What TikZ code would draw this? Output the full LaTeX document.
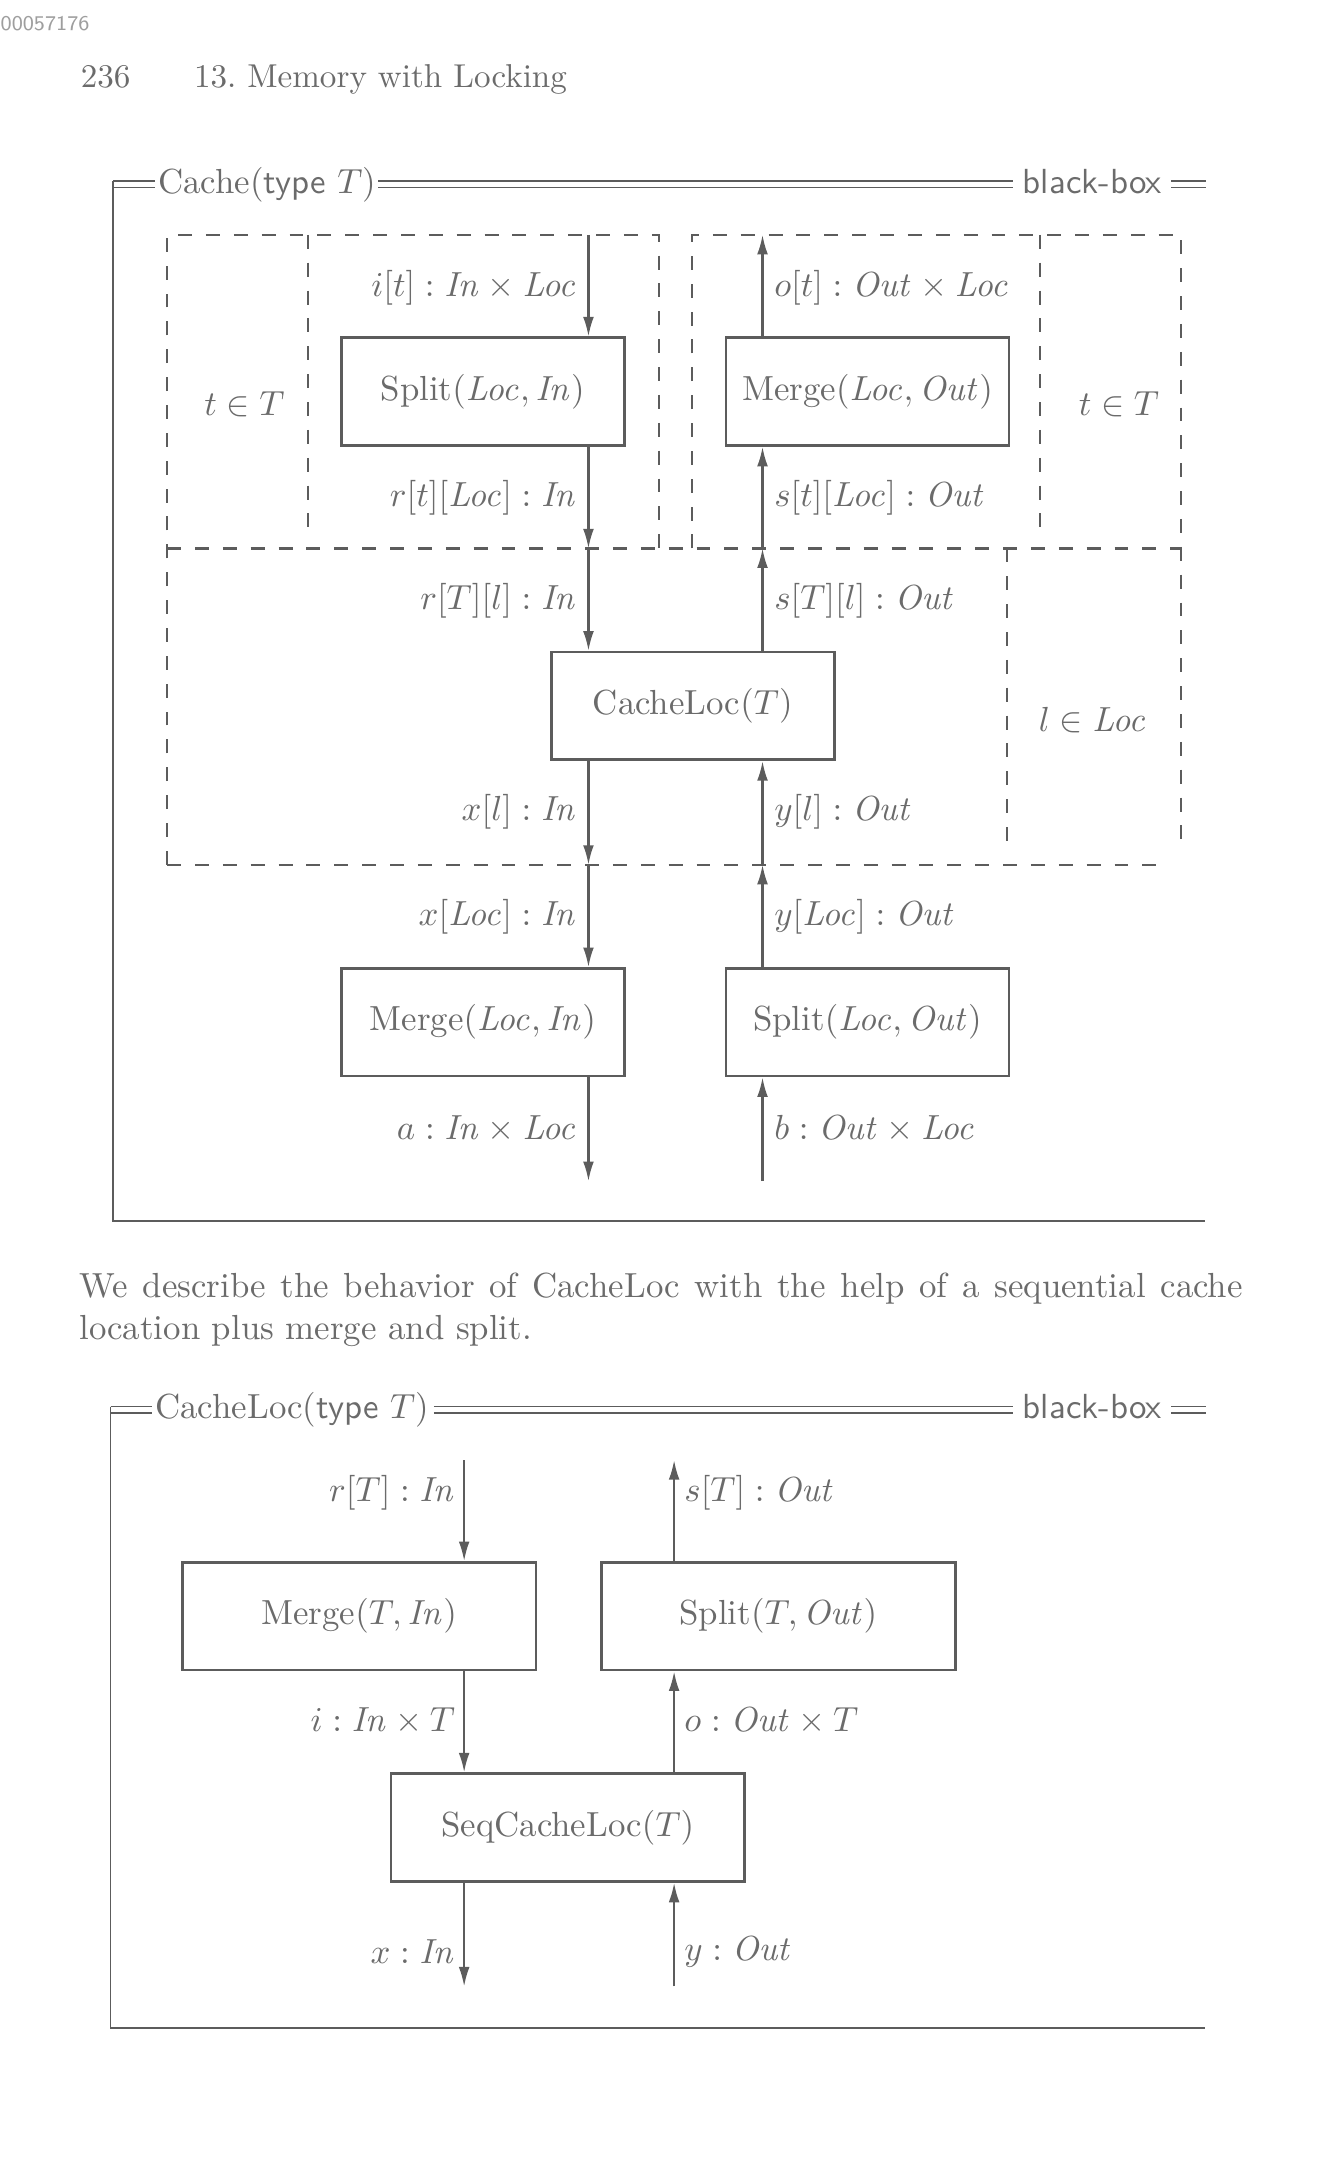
\documentclass[tikz,border=0pt]{standalone}
\usetikzlibrary{arrows.meta}
\definecolor{ink}{gray}{0.42}
\definecolor{rulec}{gray}{0.36}
\definecolor{pale}{gray}{0.62}
\begin{document}
\begin{tikzpicture}[x=0.3966pt,y=-0.3966pt,
  cbox/.style={draw=rulec, line width=0.8pt, minimum height=30.9pt, inner sep=0pt, text=ink},
  boxa/.style={cbox, minimum width=81.3pt},
  boxb/.style={cbox, minimum width=101.5pt},
  lbl/.style={text=ink, inner sep=0pt},
  arr/.style={draw=rulec, line width=0.6pt, -{Latex[length=5.6pt,width=3.1pt]}},
  dsh/.style={draw=rulec, line width=0.65pt, dash pattern=on 4pt off 4pt},
  frm/.style={draw=rulec, line width=0.5pt},
  dbl/.style={draw=rulec, line width=0.45pt}]
\useasboundingbox (0,0) rectangle (968,1568);

% page furniture
\node[lbl, text=pale, anchor=west, font=\sffamily\fontsize{6}{7}\selectfont] (code) at (0,17) {00057176};
\node[lbl, anchor=base west, font=\fontsize{9.5}{11}\selectfont] (pg) at (58,63) {236};
\node[lbl, anchor=base west, font=\fontsize{9.5}{11}\selectfont] (head) at (140,63) {13.\ Memory with Locking};

% ===== Frame 1 =====
\draw[frm] (82,131.2) -- (82,884) -- (872,884);
\draw[dbl] (82,131.2) -- (112,131.2) (82,135.8) -- (112,135.8);
\node[lbl, anchor=west] (t1) at (114,133.5) {Cache(\textsf{type} $T$)};
\draw[dbl] (274,131.2) -- (733,131.2) (274,135.8) -- (733,135.8);
\node[lbl, anchor=base west] (bb1) at (740,139.8) {\textsf{black-box}};
\draw[dbl] (848,131.2) -- (873,131.2) (848,135.8) -- (873,135.8);

% dashed replication boxes
\draw[dsh] (121,626) -- (121,170) -- (477,170) -- (477,397);
\draw[dsh] (223,170) -- (223,388);
\draw[dsh] (501,397) -- (501,170) -- (855,170) -- (855,610);
\draw[dsh] (753,170) -- (753,388);
\draw[dsh] (121,397) -- (855,397);
\draw[dsh] (729,397) -- (729,610);
\draw[dsh] (121,626) -- (840,626);

\node[lbl] (tT1) at (177,293) {$t \in T$};
\node[lbl] (tT2) at (810,293) {$t \in T$};
\node[lbl] (lL) at (791,521) {$l \in \mathit{Loc}$};

% boxes
\node[boxa] (splitLI) at (349.5,283.5) {Split$(\mathit{Loc}, \mathit{In})$};
\node[boxa] (mergeLO) at (628,283.5) {Merge$(\mathit{Loc}, \mathit{Out})$};
\node[boxa] (cacheloc) at (501.5,511) {CacheLoc$(T)$};
\node[boxa] (mergeLI) at (349.5,740) {Merge$(\mathit{Loc}, \mathit{In})$};
\node[boxa] (splitLO) at (628,740) {Split$(\mathit{Loc}, \mathit{Out})$};

% coordinates on the dashed borders / free ends
\coordinate (La) at (426,170);
\coordinate (Lb) at (426,397);
\coordinate (Lc) at (426,626);
\coordinate (Ld) at (426,855);
\coordinate (Ra) at (552,170);
\coordinate (Rb) at (552,397);
\coordinate (Rc) at (552,626);
\coordinate (Rd) at (552,855);

% left column (downwards)
\draw[arr] (La) -- (La |- splitLI.north);
\draw[arr] (Lb |- splitLI.south) -- (Lb);
\draw[arr] (Lb) -- (Lb |- cacheloc.north);
\draw[arr] (Lc |- cacheloc.south) -- (Lc);
\draw[arr] (Lc) -- (Lc |- mergeLI.north);
\draw[arr] (Ld |- mergeLI.south) -- (Ld);
% right column (upwards)
\draw[arr] (Ra |- mergeLO.north) -- (Ra);
\draw[arr] (Rb) -- (Rb |- mergeLO.south);
\draw[arr] (Rb |- cacheloc.north) -- (Rb);
\draw[arr] (Rc) -- (Rc |- cacheloc.south);
\draw[arr] (Rc |- splitLO.north) -- (Rc);
\draw[arr] (Rd) -- (Rd |- splitLO.south);

% labels
\node[lbl, anchor=east] (l1) at (418,208) {$i[t] : \mathit{In} \times \mathit{Loc}$};
\node[lbl, anchor=east] (l2) at (418,360) {$r[t][\mathit{Loc}] : \mathit{In}$};
\node[lbl, anchor=east] (l3) at (418,435) {$r[T][l] : \mathit{In}$};
\node[lbl, anchor=east] (l4) at (418,588) {$x[l] : \mathit{In}$};
\node[lbl, anchor=east] (l5) at (418,664) {$x[\mathit{Loc}] : \mathit{In}$};
\node[lbl, anchor=east] (l6) at (418,817) {$a : \mathit{In} \times \mathit{Loc}$};
\node[lbl, anchor=west] (r1) at (560,208) {$o[t] : \mathit{Out} \times \mathit{Loc}$};
\node[lbl, anchor=west] (r2) at (560,360) {$s[t][\mathit{Loc}] : \mathit{Out}$};
\node[lbl, anchor=west] (r3) at (560,435) {$s[T][l] : \mathit{Out}$};
\node[lbl, anchor=west] (r4) at (560,588) {$y[l] : \mathit{Out}$};
\node[lbl, anchor=west] (r5) at (560,664) {$y[\mathit{Loc}] : \mathit{Out}$};
\node[lbl, anchor=west] (r6) at (560,817) {$b : \mathit{Out} \times \mathit{Loc}$};

% ===== paragraph =====
\node[lbl, anchor=base west] (p1) at (57,939) {\makebox[334pt][s]{We describe the behavior of CacheLoc with the help of a sequential cache}};
\node[lbl, anchor=base west] (p2) at (57,970) {location plus merge and split.};

% ===== Frame 2 =====
\draw[frm] (80,1018.2) -- (80,1468) -- (872,1468);
\draw[dbl] (80,1018.2) -- (110,1018.2) (80,1022.8) -- (110,1022.8);
\node[lbl, anchor=west] (t2) at (112,1020.5) {CacheLoc(\textsf{type} $T$)};
\draw[dbl] (314,1018.2) -- (733,1018.2) (314,1022.8) -- (733,1022.8);
\node[lbl, anchor=base west] (bb2) at (740,1026.8) {\textsf{black-box}};
\draw[dbl] (848,1018.2) -- (873,1018.2) (848,1022.8) -- (873,1022.8);

\node[boxb] (mergeTI) at (260,1170) {Merge$(T, \mathit{In})$};
\node[boxb] (splitTO) at (563.5,1170) {Split$(T, \mathit{Out})$};
\node[boxb] (seq) at (411,1323) {SeqCacheLoc$(T)$};

\coordinate (Ma) at (336,1057);
\coordinate (Mb) at (336,1438);
\coordinate (Na) at (488,1057);
\coordinate (Nb) at (488,1438);

\draw[arr] (Ma) -- (Ma |- mergeTI.north);
\draw[arr] (Ma |- mergeTI.south) -- (Ma |- seq.north);
\draw[arr] (Mb |- seq.south) -- (Mb);
\draw[arr] (Na |- splitTO.north) -- (Na);
\draw[arr] (Na |- seq.north) -- (Na |- splitTO.south);
\draw[arr] (Nb) -- (Nb |- seq.south);

\node[lbl, anchor=east] (m1) at (330,1081) {$r[T] : \mathit{In}$};
\node[lbl, anchor=east] (m2) at (330,1246) {$i : \mathit{In} \times T$};
\node[lbl, anchor=east] (m3) at (330,1413) {$x : \mathit{In}$};
\node[lbl, anchor=west] (n1) at (495,1081) {$s[T] : \mathit{Out}$};
\node[lbl, anchor=west] (n2) at (495,1246) {$o : \mathit{Out} \times T$};
\node[lbl, anchor=west] (n3) at (495,1413) {$y : \mathit{Out}$};
\end{tikzpicture}
\end{document}
